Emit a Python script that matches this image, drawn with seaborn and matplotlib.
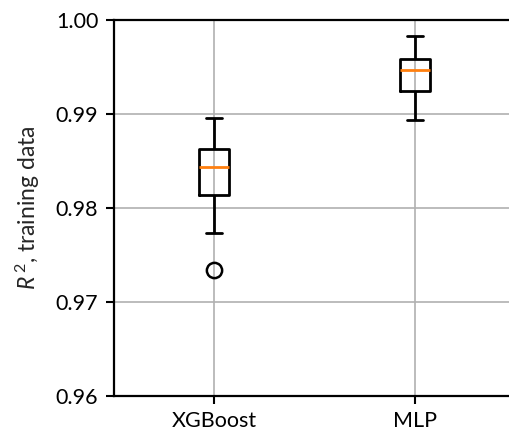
import numpy as np
import pandas as pd
import matplotlib
matplotlib.use("Agg")
import matplotlib.pyplot as plt
import seaborn as sns

models = ["XGBoost", "MLP"]
xgboost_r2 = [0.9734, 0.97734, 0.98138, 0.9829, 0.98436, 0.9855, 0.98628, 0.9880, 0.98957]
mlp_r2 = [0.98933, 0.9915, 0.99248, 0.9937, 0.99468, 0.9952, 0.99585, 0.9970, 0.99830]
yticks = [0.96, 0.97, 0.98, 0.99, 1.00]

df = pd.DataFrame({
    "model": [models[0]] * len(xgboost_r2) + [models[1]] * len(mlp_r2),
    "r2": xgboost_r2 + mlp_r2,
})

sns.set_style("white")
plt.rcParams["font.family"] = ["Lato", "DejaVu Sans"]
plt.rcParams["mathtext.fontset"] = "custom"
plt.rcParams["mathtext.rm"] = "Lato"
plt.rcParams["mathtext.it"] = "Lato:italic"

fig = plt.figure(figsize=(5.09, 4.32), dpi=100)
ax = fig.add_axes([113.5 / 509, 1 - 396 / 432, 402 / 509, 376 / 432])

lw = 2.0
sns.boxplot(
    data=df, x="model", y="r2", order=models, ax=ax,
    width=0.15, fill=False, color="black", linewidth=lw,
    medianprops={"color": "#ff7f0e", "linewidth": lw},
    flierprops={"marker": "o", "markersize": 11, "markerfacecolor": "none",
                "markeredgecolor": "black", "markeredgewidth": 1.8},
    capwidths=0.075,
    whis=1.5,
)

ax.set_xlim(-0.5, 1.5)
ax.set_ylim(0.96, 1.00)
ax.set_yticks(yticks)
ax.set_yticklabels([f"{v:.2f}" for v in yticks])
ax.grid(True, color="#b0b0b0", linewidth=1.2)
ax.set_axisbelow(True)
for s in ax.spines.values():
    s.set_color("black")
    s.set_linewidth(1.6)
ax.spines["right"].set_visible(False)
ax.tick_params(axis="both", direction="out", length=6, width=1.5, labelsize=15.5,
               colors="black", left=True, bottom=True, pad=5)
ax.set_xlabel("")
ax.set_ylabel("$R^{\\,2}$, training data", fontsize=16.5, labelpad=10)

fig.savefig("out.png", dpi=100)
